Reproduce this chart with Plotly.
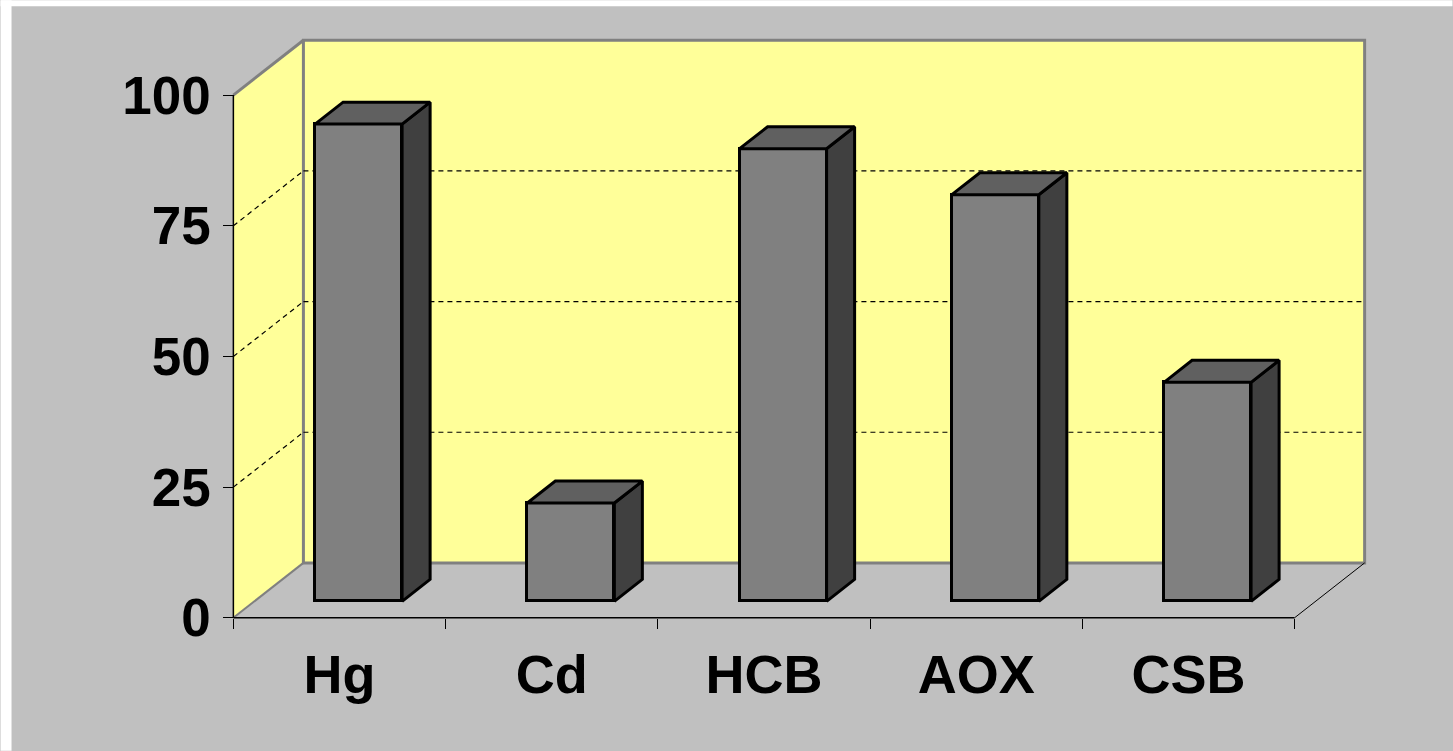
import plotly.graph_objects as go

categories = ["Hg", "Cd", "HCB", "AOX", "CSB"]
values = [91.3, 18.8, 86.6, 77.8, 41.9]
y_ticks = [0, 25, 50, 75, 100]

# 3D geometry (in axis units)
KX = 0.33     # depth shift along x, category units
KY = 10.5     # depth shift along y, value units
D0, D1 = 0.3, 0.7   # bar depth range (fraction of wall depth)
BW = 0.41     # bar width
BAR_XSHIFT = 0.09
N = len(categories)

FRONT, TOP, SIDE = "#808080", "#606060", "#404040"
WALL, BG, EDGE = "#FFFF99", "#C0C0C0", "#808080"
FONT = "Liberation Sans, Arial, sans-serif"

# layout scale (pixels per unit)
PXU, PYU = 212.4, 5.23
X0_PX, Y0_PX = 233, 618
X_LO, X_HI = -0.03, N + KX + 0.03
Y_LO, Y_HI = -1.0, 100 + KY + 1.0
W, H = 1453, 751
ml = X0_PX + X_LO * PXU
pw = (X_HI - X_LO) * PXU
mr = W - ml - pw
mt = Y0_PX - Y_HI * PYU
mb = H - (Y0_PX - Y_LO * PYU)
ph = H - mt - mb

fig = go.Figure()

xc = [i + 0.5 + BAR_XSHIFT for i in range(N)]
base = D0 * KY
fig.add_trace(go.Bar(
    x=xc, y=values, base=[base] * N, width=BW,
    marker=dict(color=FRONT, line=dict(color="black", width=3)),
    hoverinfo="skip", showlegend=False))

dx = (D1 - D0) * KX
dy = (D1 - D0) * KY
for c, v in zip(xc, values):
    x0, x1 = c - BW / 2, c + BW / 2
    yt = base + v
    fig.add_trace(go.Scatter(
        x=[x1, x1 + dx, x1 + dx, x1, x1], y=[base, base + dy, yt + dy, yt, base],
        fill="toself", fillcolor=SIDE, mode="lines",
        line=dict(color="black", width=3), hoverinfo="skip", showlegend=False))
    fig.add_trace(go.Scatter(
        x=[x0, x1, x1 + dx, x0 + dx, x0], y=[yt, yt, yt + dy, yt + dy, yt],
        fill="toself", fillcolor=TOP, mode="lines",
        line=dict(color="black", width=3), hoverinfo="skip", showlegend=False))

DASH = dict(color="black", width=1.2, dash="5px,4px")
shapes = []
# left side wall
shapes.append(dict(type="path", path=f"M 0,0 L {KX},{KY} L {KX},{100 + KY} L 0,100 Z",
                   fillcolor=WALL, line=dict(width=0), layer="below"))
# back wall
shapes.append(dict(type="rect", x0=KX, y0=KY, x1=N + KX, y1=100 + KY,
                   fillcolor=WALL, line=dict(color=EDGE, width=3), layer="below"))
# gridlines
for v in y_ticks[1:-1]:
    shapes.append(dict(type="line", x0=KX, y0=v + KY, x1=N + KX, y1=v + KY,
                       line=DASH, layer="below"))
    shapes.append(dict(type="line", x0=0, y0=v, x1=KX, y1=v + KY,
                       line=DASH, layer="below"))
# side wall top edge & floor left edge
shapes.append(dict(type="line", x0=0, y0=100, x1=KX, y1=100 + KY,
                   line=dict(color=EDGE, width=3), layer="below"))
shapes.append(dict(type="line", x0=0, y0=0, x1=KX, y1=KY,
                   line=dict(color=EDGE, width=2), layer="below"))
# floor right edge, front edge, y axis line
shapes.append(dict(type="line", x0=N, y0=0, x1=N + KX, y1=KY,
                   line=dict(color="black", width=1), layer="below"))
shapes.append(dict(type="line", x0=0, y0=0, x1=N, y1=0,
                   line=dict(color="black", width=1.5), layer="below"))
shapes.append(dict(type="line", x0=0, y0=0, x1=0, y1=100,
                   line=dict(color="black", width=1.5), layer="below"))
# white outer strips (top & left)
shapes.append(dict(type="rect", xref="paper", yref="paper",
                   x0=-ml / pw, x1=(11 - ml) / pw, y0=-mb / ph, y1=1 + mt / ph,
                   fillcolor="white", line=dict(width=0), layer="above"))
shapes.append(dict(type="rect", xref="paper", yref="paper",
                   x0=-ml / pw, x1=1 + mr / pw, y0=1 + (mt - 6) / ph, y1=1 + mt / ph,
                   fillcolor="white", line=dict(width=0), layer="above"))

fig.update_layout(
    width=W, height=H,
    margin=dict(l=ml, r=mr, t=mt, b=mb, pad=0),
    paper_bgcolor=BG, plot_bgcolor=BG,
    shapes=shapes, showlegend=False, bargap=0,
    xaxis=dict(range=[X_LO, X_HI], showgrid=False, zeroline=False, showline=False,
               tickmode="array", tickvals=[i + 0.5 for i in range(N)], ticktext=categories,
               ticks="", anchor="free", position=(0 - Y_LO) / (Y_HI - Y_LO),
               tickfont=dict(family=FONT, size=54, color="black", weight="bold"),
               ticklabelstandoff=20,
               minor=dict(tickmode="linear", tick0=0, dtick=1, ticks="outside",
                          ticklen=10, tickcolor="black", tickwidth=1, showgrid=False),
               fixedrange=True),
    yaxis=dict(range=[Y_LO, Y_HI], showgrid=False, zeroline=False, showline=False,
               tickmode="array", tickvals=y_ticks, ticks="outside", ticklen=10,
               tickcolor="black", tickwidth=1,
               anchor="free", position=(0 - X_LO) / (X_HI - X_LO),
               tickfont=dict(family=FONT, size=53, color="black", weight="bold"),
               ticklabelstandoff=2, fixedrange=True),
)

fig.write_html("out.html")
